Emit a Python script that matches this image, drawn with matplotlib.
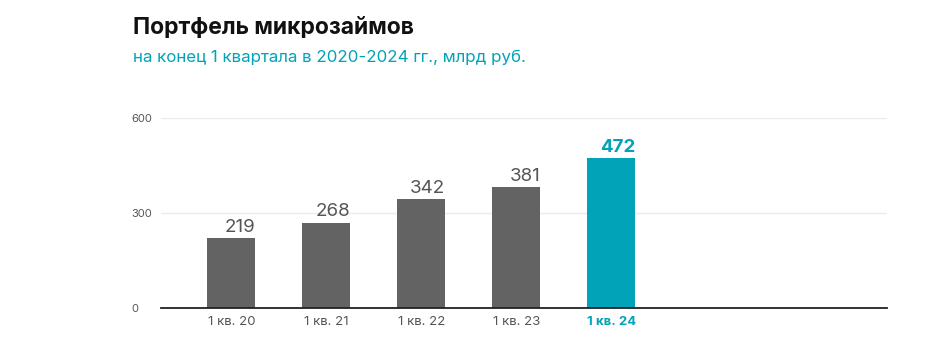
import matplotlib.pyplot as plt
import numpy as np

plt.rcParams['font.family'] = ['Inter', 'DejaVu Sans']

# данные
categories = ['1 кв. 20', '1 кв. 21', '1 кв. 22', '1 кв. 23', '1 кв. 24']
values = [219, 268, 342, 381, 472]
labels = ['219', '268', '342', '381', '472']

gray = '#636363'
teal = '#00A3B8'
colors = [gray] * 4 + [teal]

fig = plt.figure(figsize=(9.32, 3.38), dpi=100)
ax = fig.add_axes([161/932, 1-307.5/338, (887-161)/932, (307.5-118)/338])

x = np.arange(len(categories))
bars = ax.bar(x, values, width=0.505, color=colors, zorder=3)

for i, b in enumerate(bars):
    last = i == len(bars) - 1
    ax.text(b.get_x() + b.get_width(), values[i] + 8, labels[i],
            ha='right', va='bottom', fontsize=13.5,
            color=teal if last else '#555555',
            fontweight='bold' if last else 'normal')

ax.set_xlim(-0.74, 6.9)
ax.set_ylim(0, 600)
ax.set_yticks([0, 300, 600])
ax.yaxis.grid(True, color='#ebebeb', linewidth=1, zorder=0)
for s in ['top', 'right', 'left']:
    ax.spines[s].set_visible(False)
ax.spines['bottom'].set_color('#222222')
ax.spines['bottom'].set_linewidth(1.3)
ax.spines['bottom'].set_zorder(4)
ax.tick_params(axis='both', length=0)
ax.tick_params(axis='y', labelsize=8, labelcolor='#555555', pad=21.6)
for t in ax.get_yticklabels():
    t.set_horizontalalignment('left')

ax.set_xticks(x)
ax.set_xticklabels(categories, fontsize=9.5, color='#555555')
ax.tick_params(axis='x', pad=6)
xl = ax.get_xticklabels()
xl[-1].set_color(teal)
xl[-1].set_fontweight('bold')

fig.text(133/932, 1-28/338, 'Портфель микрозаймов', fontsize=16.5,
         fontweight='bold', color='#111111', va='center', ha='left')
fig.text(133/932, 1-57/338, 'на конец 1 квартала в 2020-2024 гг., млрд руб.',
         fontsize=12.2, color=teal, va='center', ha='left')

fig.savefig('out.png', dpi=100)
